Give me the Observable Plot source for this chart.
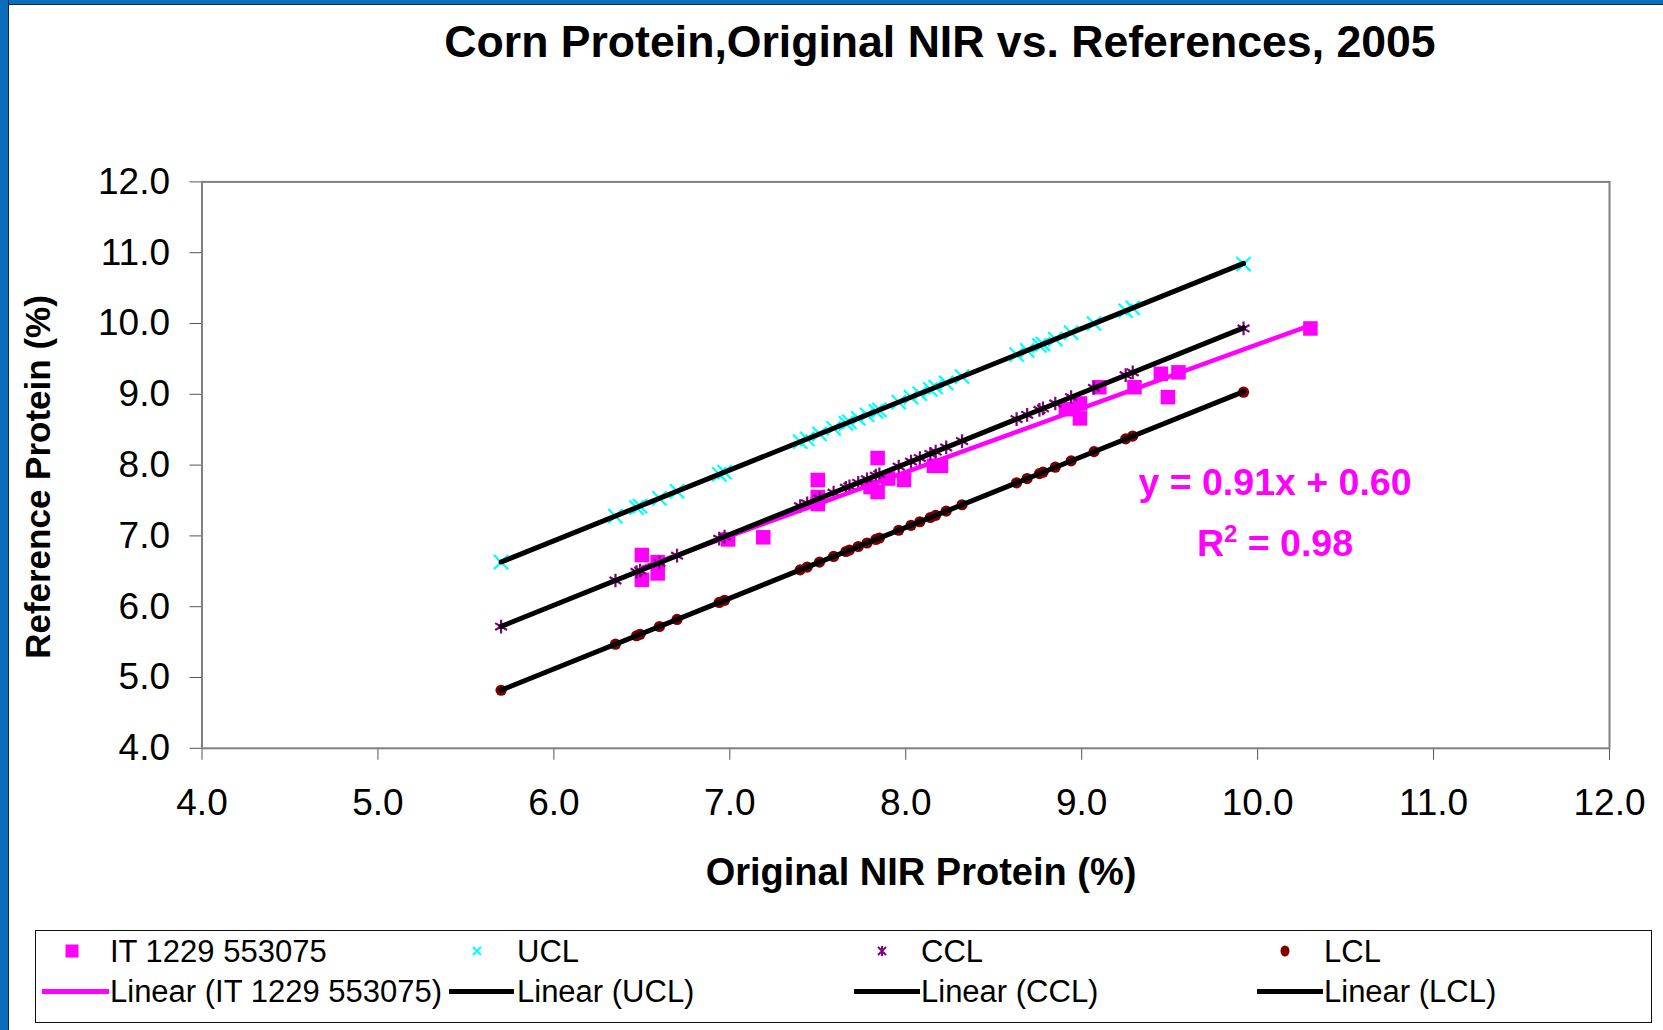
<!DOCTYPE html>
<html>
<head>
<meta charset="utf-8">
<script src="https://cdn.jsdelivr.net/npm/d3@7"></script>
<script src="https://cdn.jsdelivr.net/npm/@observablehq/plot@0.6"></script>
<style>
  html, body { margin: 0; padding: 0; background: #fff; }
  body { width: 1663px; height: 1030px; position: relative; overflow: hidden; font-family: "Liberation Sans", Arial, sans-serif; }
  .abs { position: absolute; white-space: nowrap; }
  #chart { position: absolute; left: 0; top: 0; }
</style>
</head>
<body>
<div class="abs" style="left:0;top:0;width:1663px;height:4px;background:#0a6ebd;border-bottom:1px solid #0b2a4a"></div>
<div class="abs" style="left:0;top:0;width:8px;height:1030px;background:#0a6ebd;border-right:1px solid #0b2a4a"></div>
<div id="chart"></div>
<div id="overlay"></div>
<script>
// ---- data ----
const xTicks = [4, 5, 6, 7, 8, 9, 10, 11, 12];
const yTicks = [4, 5, 6, 7, 8, 9, 10, 11, 12];

// IT 1229 553075 (magenta squares)
const itX = [6.50, 6.50, 6.59, 6.59, 6.99, 7.19, 7.50, 7.50, 7.50, 7.80, 7.84, 7.84, 7.90, 7.99, 8.16, 8.20, 8.91, 8.99, 8.99, 9.10, 9.30, 9.45, 9.49, 9.55, 10.30];
const itY = [6.73, 6.38, 6.63, 6.47, 6.95, 6.98, 7.79, 7.55, 7.45, 7.69, 8.10, 7.62, 7.81, 7.79, 7.99, 7.99, 8.79, 8.87, 8.66, 9.10, 9.10, 9.29, 8.96, 9.31, 9.93];

// control limits, shared x
const limX = [5.70, 6.35, 6.47, 6.49, 6.60, 6.70, 6.94, 6.97, 7.40, 7.44, 7.51, 7.59, 7.66, 7.68, 7.73, 7.78, 7.83, 7.85, 7.96, 8.03, 8.08, 8.14, 8.17, 8.23, 8.32, 8.63, 8.69, 8.76, 8.78, 8.85, 8.94, 9.07, 9.25, 9.29, 9.92];
const uclY = [6.63, 7.28, 7.40, 7.42, 7.53, 7.63, 7.87, 7.90, 8.33, 8.37, 8.44, 8.52, 8.59, 8.61, 8.66, 8.71, 8.76, 8.78, 8.89, 8.96, 9.01, 9.07, 9.10, 9.16, 9.25, 9.56, 9.62, 9.69, 9.71, 9.78, 9.87, 10.00, 10.18, 10.22, 10.84];
const cclY = [5.72, 6.37, 6.49, 6.51, 6.62, 6.72, 6.96, 6.99, 7.42, 7.46, 7.53, 7.61, 7.68, 7.70, 7.75, 7.80, 7.85, 7.87, 7.98, 8.05, 8.10, 8.16, 8.19, 8.25, 8.34, 8.65, 8.71, 8.78, 8.80, 8.87, 8.96, 9.09, 9.27, 9.31, 9.93];
const lclY = [4.82, 5.47, 5.59, 5.61, 5.72, 5.82, 6.06, 6.09, 6.52, 6.56, 6.63, 6.71, 6.78, 6.80, 6.85, 6.90, 6.95, 6.97, 7.08, 7.15, 7.20, 7.26, 7.29, 7.35, 7.44, 7.75, 7.81, 7.88, 7.90, 7.97, 8.06, 8.19, 8.37, 8.41, 9.03];

const seriesNames = ["IT 1229 553075", "UCL", "CCL", "LCL"];
const equationText = "y = 0.91x + 0.60";
const r2Value = "0.98";

// ---- build tables ----
const it = itX.map((x, i) => ({x, y: itY[i]}));
const ucl = limX.map((x, i) => ({x, y: uclY[i]}));
const ccl = limX.map((x, i) => ({x, y: cclY[i]}));
const lcl = limX.map((x, i) => ({x, y: lclY[i]}));

const MAG = "#ff00ff", CYAN = "#00ffff", PURP = "#800080", MAROON = "#800000";

const plot = Plot.plot({
  width: 1663,
  height: 900,
  marginLeft: 201.5,
  marginRight: 54,
  marginTop: 181.4,
  marginBottom: 152.2,
  x: {domain: [4, 12]},
  y: {domain: [4, 12]},
  style: {fontFamily: "'Liberation Sans', Arial, sans-serif", fontSize: "37px", color: "#000", background: "transparent", overflow: "visible"},
  marks: [
    Plot.axisX({ticks: xTicks, tickFormat: d => d.toFixed(1), tickSize: 12, tickPadding: 28, label: null, stroke: "#555"}),
    Plot.axisY({ticks: yTicks, tickFormat: d => d.toFixed(1), tickSize: 12, tickPadding: 20, label: null, stroke: "#555"}),
    Plot.dot(it, {x: "x", y: "y", symbol: "square", r: 8.2, fill: MAG, stroke: "none"}),
    Plot.dot(ucl, {x: "x", y: "y", symbol: "times", r: 6.5, stroke: CYAN, strokeWidth: 2.2}),
    Plot.dot(ccl, {x: "x", y: "y", symbol: "asterisk", r: 6.5, stroke: PURP, strokeWidth: 2.2}),
    Plot.dot(lcl, {x: "x", y: "y", symbol: "circle", r: 5.6, fill: MAROON, stroke: "none"}),
    Plot.linearRegressionY(it, {x: "x", y: "y", ci: 0, stroke: MAG, strokeWidth: 4.5}),
    Plot.linearRegressionY(ucl, {x: "x", y: "y", ci: 0, stroke: "#000", strokeWidth: 5}),
    Plot.linearRegressionY(ccl, {x: "x", y: "y", ci: 0, stroke: "#000", strokeWidth: 5}),
    Plot.linearRegressionY(lcl, {x: "x", y: "y", ci: 0, stroke: "#000", strokeWidth: 5}),
    Plot.frame({stroke: "#808080", strokeWidth: 2})
  ]
});
document.getElementById("chart").appendChild(plot);

// ---- text overlays ----
const overlay = document.getElementById("overlay");
function place(html, cx, cy, style, anchor = "center") {
  const d = document.createElement("div");
  d.className = "abs";
  d.innerHTML = html;
  d.style.left = cx + "px";
  d.style.top = cy + "px";
  d.style.lineHeight = "1";
  const tx = anchor === "center" ? "-50%" : anchor === "end" ? "-100%" : "0";
  d.style.transform = `translate(${tx}, -50%)` + (style.rotate ? " rotate(-90deg)" : "");
  Object.assign(d.style, style.css || {});
  overlay.appendChild(d);
  return d;
}
place("Corn Protein,Original NIR vs. References, 2005", 940, 42, {css: {fontWeight: "bold", fontSize: "44.6px"}});
place("Original NIR Protein (%)", 921, 872, {css: {fontWeight: "bold", fontSize: "38px"}});
place("Reference Protein (%)", 37, 477, {rotate: true, css: {fontWeight: "bold", fontSize: "35px"}});
place(equationText, 1275, 483, {css: {fontWeight: "bold", fontSize: "37.5px", color: MAG}});
place("R<sup style=\"font-size:24px;vertical-align:0;position:relative;top:-14px\">2</sup> = " + r2Value, 1275, 544, {css: {fontWeight: "bold", fontSize: "37.5px", color: MAG}});

// ---- legend ----
const box = document.createElement("div");
box.className = "abs";
Object.assign(box.style, {left: "35px", top: "930px", width: "1615px", height: "91px", border: "1.5px solid #111", background: "#fff"});
overlay.appendChild(box);

function sym(kind, color, cx, cy) {
  const s = 20;
  let inner = "";
  if (kind === "square") inner = `<rect x="3.5" y="3.5" width="13" height="13" fill="${color}"/>`;
  if (kind === "times") inner = `<path d="M6,6L14,14M14,6L6,14" stroke="${color}" stroke-width="2"/>`;
  if (kind === "asterisk") inner = `<path d="M6,6L14,14M14,6L6,14M10,5V15" stroke="${color}" stroke-width="2"/>`;
  if (kind === "circle") inner = `<ellipse cx="10" cy="10" rx="4.5" ry="5.5" fill="${color}"/>`;
  const d = document.createElement("div");
  d.className = "abs";
  d.style.left = (cx - s / 2) + "px";
  d.style.top = (cy - s / 2) + "px";
  d.innerHTML = `<svg width="${s}" height="${s}">${inner}</svg>`;
  overlay.appendChild(d);
}
function seg(color, x0, x1, cy) {
  const d = document.createElement("div");
  d.className = "abs";
  Object.assign(d.style, {left: x0 + "px", top: (cy - 2.5) + "px", width: (x1 - x0) + "px", height: "5px", background: color});
  overlay.appendChild(d);
}
const kinds = ["square", "times", "asterisk", "circle"];
const colors = [MAG, CYAN, PURP, MAROON];
const markX = [72, 477, 882, 1285];
const textX = [110, 517, 921, 1324];
const segX = [[42, 109], [449, 514], [854, 920], [1257, 1323]];
const lineColors = [MAG, "#000", "#000", "#000"];
seriesNames.forEach((name, i) => {
  sym(kinds[i], colors[i], markX[i], 951);
  place(name, textX[i], 951, {css: {fontSize: "31px"}}, "start");
  seg(lineColors[i], segX[i][0], segX[i][1], 991);
  place(`Linear (${name})`, textX[i], 991, {css: {fontSize: "31px"}}, "start");
});
</script>
</body>
</html>
